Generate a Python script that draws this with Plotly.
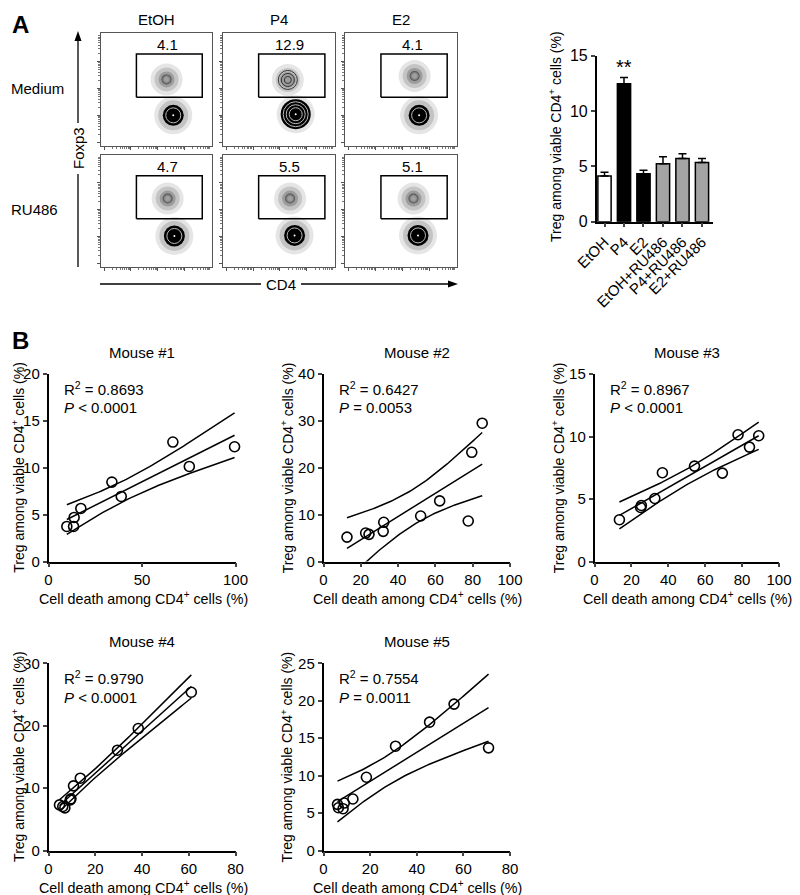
import numpy as np
import plotly.graph_objects as go

# ---- panel A, flow plots (positions on a 0-1 scale: CD4 across, Foxp3 up)
flow_cols = ["EtOH", "P4", "E2"]
flow_rows = ["Medium", "RU486"]
flow_pct = ["4.1", "12.9", "4.1", "4.7", "5.5", "5.1"]
treg_cd4 = [0.59, 0.58, 0.62, 0.60, 0.60, 0.61]
treg_foxp3 = [0.59, 0.585, 0.62, 0.61, 0.61, 0.61]
conv_cd4 = [0.65, 0.65, 0.66, 0.66, 0.64, 0.65]
conv_foxp3 = [0.27, 0.28, 0.27, 0.275, 0.28, 0.28]
gate_cd4 = [0.32, 0.91]
gate_foxp3 = [0.43, 0.815]

# ---- panel A, bar chart
groups = ["EtOH", "P4", "E2", "EtOH+RU486", "P4+RU486", "E2+RU486"]
treg_mean = [4.13, 12.47, 4.34, 5.24, 5.72, 5.36]
treg_sem = [0.33, 0.57, 0.30, 0.63, 0.42, 0.36]

# ---- panel B, cell death vs Treg per mouse
m1_death = [9.8, 13.4, 13.7, 17.3, 33.9, 38.9, 66.5, 75.3, 99.5]
m1_treg = [3.74, 3.74, 4.70, 5.66, 8.47, 6.94, 12.74, 10.14, 12.24]
m2_death = [12.6, 22.6, 24.4, 32.0, 32.3, 52.1, 62.3, 77.6, 79.5, 85.1]
m2_treg = [5.2, 6.07, 5.79, 6.43, 8.36, 9.71, 12.93, 8.64, 23.3, 29.5]
m3_death = [13.5, 25.0, 25.4, 32.7, 36.8, 54.2, 69.3, 77.8, 84.0, 89.0]
m3_treg = [3.34, 4.32, 4.48, 5.04, 7.10, 7.63, 7.07, 10.14, 9.15, 10.06]
m4_death = [4.7, 6.1, 7.0, 9.3, 9.6, 10.7, 13.6, 29.5, 38.4, 61.1]
m4_treg = [7.31, 7.05, 6.83, 8.12, 8.28, 10.36, 11.59, 16.07, 19.54, 25.36]
m5_death = [6.0, 6.4, 8.4, 8.9, 12.6, 18.4, 30.9, 45.5, 56.0, 70.8]
m5_treg = [6.16, 5.71, 5.58, 6.34, 6.88, 9.78, 13.93, 17.14, 19.55, 13.71]
mouse_names = ["Mouse #1", "Mouse #2", "Mouse #3", "Mouse #4", "Mouse #5"]
mouse_r2 = ["0.8693", "0.6427", "0.8967", "0.9790", "0.7554"]
mouse_p = ["&lt; 0.0001", "= 0.0053", "&lt; 0.0001", "&lt; 0.0001", "= 0.0011"]
death_max = [100, 100, 100, 80, 80]
treg_max = [20, 40, 15, 30, 25]
death_step = [50, 20, 20, 20, 20]
treg_step = [5, 10, 5, 10, 5]

# the page body keeps its default 8px margin, so the figure is drawn 8px in and
# everything below is laid out in window pixels and shifted back
OFF = 8
W, H = 800 - OFF, 895 - OFF
FONT = "Liberation Sans, Arial, sans-serif"
T95 = {7: 2.365, 8: 2.306}


def fx(p):
    return (p - OFF) / W


def fy(p):
    return 1 - (p - OFF) / H


def px_x(a, b):
    return [max(fx(a), 0), min(fx(b), 1)]


def px_y(top, bottom):
    return [max(fy(bottom), 0), min(fy(top), 1)]


def ref(letter, n):
    return letter if n == 1 else f"{letter}{n}"


def key(letter, n):
    return f"{letter}axis" if n == 1 else f"{letter}axis{n}"


annotations, shapes = [], []


def label(x, y, text, size=15, **kw):
    d = dict(x=fx(x), y=fy(y), xref="paper", yref="paper", text=text, showarrow=False,
             font=dict(size=size, family=FONT, color="black"), xanchor="center", yanchor="middle")
    d.update(kw)
    annotations.append(d)


def dot(xa, ya, x, y, **marker):
    fig.add_trace(go.Scatter(x=[x], y=[y], mode="markers", xaxis=xa, yaxis=ya,
                             hoverinfo="skip", marker=marker))


fig = go.Figure()
layout = dict(width=W, height=H, margin=dict(l=0, r=0, t=0, b=0, pad=0), showlegend=False,
              paper_bgcolor="white", plot_bgcolor="rgba(0,0,0,0)",
              font=dict(family=FONT, size=15, color="black"))

# ---------------- flow plots ----------------
col_px = [(100.7, 212.3), (222.7, 335.0), (345.0, 457.3)]
row_px = [(33.3, 145.7), (155.0, 266.7)]
decades = [0.03, 0.27, 0.51, 0.75]
minor = [d + 0.24 * np.log10(k) for d in decades for k in range(2, 10) if d + 0.24 * np.log10(k) < 1]

for i in range(6):
    r, c = divmod(i, 3)
    n = i + 1
    ax = dict(range=[0, 1], showline=True, mirror=True, linecolor="#555", linewidth=1,
              showgrid=False, zeroline=False, showticklabels=False, ticks="outside",
              ticklen=3, tickcolor="#555", tickvals=decades, automargin=False,
              minor=dict(tickvals=minor, ticklen=2, tickcolor="#777", ticks="outside"))
    layout[key("x", n)] = dict(ax, domain=px_x(*col_px[c]), anchor=ref("y", n))
    layout[key("y", n)] = dict(ax, domain=px_y(*row_px[r]), anchor=ref("x", n))
    xa, ya = ref("x", n), ref("y", n)
    contour = flow_pct[i] == "12.9"

    # gate
    fig.add_trace(go.Scatter(
        x=[gate_cd4[0], gate_cd4[1], gate_cd4[1], gate_cd4[0], gate_cd4[0]],
        y=[gate_foxp3[0], gate_foxp3[0], gate_foxp3[1], gate_foxp3[1], gate_foxp3[0]],
        mode="lines", line=dict(color="black", width=1.5), xaxis=xa, yaxis=ya, hoverinfo="skip"))

    tx, ty = treg_cd4[i], treg_foxp3[i]
    cx, cy = conv_cd4[i], conv_foxp3[i]
    fade = dict(type="radial", color="rgba(255,255,255,0)")

    # Foxp3+ Treg cloud
    for s, a in ((32, 0.10), (24, 0.14), (16, 0.2)):
        dot(xa, ya, tx, ty, size=s, color=f"rgba(0,0,0,{a})", line=dict(width=0))
    if contour:
        for s in (19, 13, 7):
            dot(xa, ya, tx, ty, size=s, symbol="circle-open", color="#333",
                line=dict(width=1, color="#333"))
    else:
        dot(xa, ya, tx, ty, size=10, color="rgba(0,0,0,0.55)", line=dict(width=0), gradient=fade)

    # Foxp3- conventional CD4 cluster
    for s, a in ((38, 0.10), (30, 0.15)):
        dot(xa, ya, cx, cy, size=s, color=f"rgba(0,0,0,{a})", line=dict(width=0))
    dot(xa, ya, cx, cy, size=30 if contour else 21, color="black", line=dict(width=0))
    for s in ((25, 19, 13) if contour else (15,)):
        dot(xa, ya, cx, cy, size=s, symbol="circle-open", color="#bbb",
            line=dict(width=1, color="#bbb"))
    dot(xa, ya, cx, cy, size=2, color="white", line=dict(width=0))

    label((col_px[c][0] + col_px[c][1]) / 2 + 11, row_px[r][0] + 11, flow_pct[i])

for c, name in enumerate(flow_cols):
    label((col_px[c][0] + col_px[c][1]) / 2, 19, name)
for r, name in enumerate(flow_rows):
    label(9, (row_px[r][0] + row_px[r][1]) / 2 - 1, name, xanchor="left")

# Foxp3 / CD4 arrows
line = dict(type="line", xref="paper", yref="paper", line=dict(color="black", width=1.3))
shapes.append(dict(line, x0=fx(78), x1=fx(78), y0=fy(267), y1=fy(174)))
shapes.append(dict(line, x0=fx(78), x1=fx(78), y0=fy(123), y1=fy(38)))
shapes.append(dict(line, x0=fx(100), x1=fx(261), y0=fy(284), y1=fy(284)))
shapes.append(dict(line, x0=fx(301), x1=fx(450), y0=fy(284), y1=fy(284)))


def tri(pts):
    p = " L ".join(f"{fx(x):.5f},{fy(y):.5f}" for x, y in pts)
    return dict(type="path", xref="paper", yref="paper", path=f"M {p} Z",
                fillcolor="black", line=dict(width=0))


shapes.append(tri([(78, 31), (74.5, 41), (81.5, 41)]))
shapes.append(tri([(458, 284), (448, 280.5), (448, 287.5)]))
label(78, 148, "Foxp3", textangle=-90)
label(281, 284, "CD4")
label(10, 9, "<b>A</b>", size=24, xanchor="left", yanchor="top")

# ---------------- bar chart ----------------
fig.add_trace(go.Bar(
    x=groups, y=treg_mean, width=0.68, xaxis="x7", yaxis="y7",
    marker=dict(color=["white", "black", "black", "#a4a4a4", "#a4a4a4", "#a4a4a4"],
                line=dict(color="black", width=1.5)),
    error_y=dict(type="data", array=treg_sem, arrayminus=[0] * len(treg_sem), symmetric=False,
                 color="black", thickness=1.5, width=4)))
layout["xaxis7"] = dict(domain=px_x(596.7, 712.7), anchor="y7", type="category",
                        range=[-0.4, 5.55], showline=True, linecolor="black", linewidth=1.5,
                        ticks="outside", ticklen=4, tickwidth=1.5, tickangle=-45,
                        tickfont=dict(size=15), showgrid=False, zeroline=False, automargin=False)
layout["yaxis7"] = dict(domain=px_y(55.7, 221.7), anchor="x7", range=[0, 15],
                        tickvals=[0, 5, 10, 15], showline=True, linecolor="black", linewidth=1.5,
                        ticks="outside", ticklen=4, tickwidth=1.5, tickfont=dict(size=16),
                        showgrid=False, zeroline=False, automargin=False)
annotations.append(dict(x="P4", y=fy(67), xref="x7", yref="paper", text="**", showarrow=False,
                        font=dict(size=20, family=FONT, color="black"), yanchor="middle"))
label(555, 137, "Treg among viable CD4<sup>+</sup> cells (%)", size=14, textangle=-90)

# ---------------- scatter plots ----------------
sc_cols = [(48.5, 235.5), (323.5, 510.0), (594.5, 779.0)]
sc_rows = [(374.0, 561.5), (663.3, 850.5)]
deaths = [m1_death, m2_death, m3_death, m4_death, m5_death]
tregs = [m1_treg, m2_treg, m3_treg, m4_treg, m5_treg]

for k in range(5):
    r, c = divmod(k, 3)
    n = 8 + k
    xa, ya = ref("x", n), ref("y", n)
    x = np.asarray(deaths[k], float)
    y = np.asarray(tregs[k], float)
    slope, icpt = np.polyfit(x, y, 1)
    xs = np.linspace(x.min(), x.max(), 80)
    fit = icpt + slope * xs
    s = np.sqrt(((y - (icpt + slope * x)) ** 2).sum() / (len(x) - 2))
    half = T95[len(x) - 2] * s * np.sqrt(1 / len(x) + (xs - x.mean()) ** 2 / ((x - x.mean()) ** 2).sum())
    for band in (fit - half, fit, fit + half):
        fig.add_trace(go.Scatter(x=xs, y=band, mode="lines", xaxis=xa, yaxis=ya,
                                 line=dict(color="black", width=1.5), hoverinfo="skip"))
    fig.add_trace(go.Scatter(x=x, y=y, mode="markers", xaxis=xa, yaxis=ya, cliponaxis=False,
                             marker=dict(symbol="circle-open", size=10, color="black",
                                         line=dict(width=1.6, color="black"))))
    common = dict(showline=True, linecolor="black", linewidth=1.5, ticks="outside", ticklen=4,
                  tickwidth=1.5, tickfont=dict(size=15), showgrid=False, zeroline=False,
                  automargin=False)
    layout[key("x", n)] = dict(common, domain=px_x(*sc_cols[c]), anchor=ya,
                               range=[0, death_max[k]], dtick=death_step[k], tick0=0)
    layout[key("y", n)] = dict(common, domain=px_y(*sc_rows[r]), anchor=xa,
                               range=[0, treg_max[k]], dtick=treg_step[k], tick0=0)

    x0, x1 = sc_cols[c]
    top, bot = sc_rows[r]
    label((x0 + x1) / 2, top - 22, mouse_names[k], size=15)
    label(x0 + 13, top + 14, f"R<sup>2</sup> = {mouse_r2[k]}", size=15, xanchor="left")
    label(x0 + 13, top + 34, f"<i>P</i> {mouse_p[k]}", size=15, xanchor="left")
    label((x0 + x1) / 2 + 1, bot + 36, "Cell death among CD4<sup>+</sup> cells (%)", size=14.3)
    label(max(x0 - 37, 18), (top + bot) / 2, "Treg among viable CD4<sup>+</sup> cells (%)",
          size=14, textangle=-90)

label(10, 340, "<b>B</b>", size=24, xanchor="left")

layout["annotations"] = annotations
layout["shapes"] = shapes
fig.update_layout(**layout)
fig.write_html("out.html")
